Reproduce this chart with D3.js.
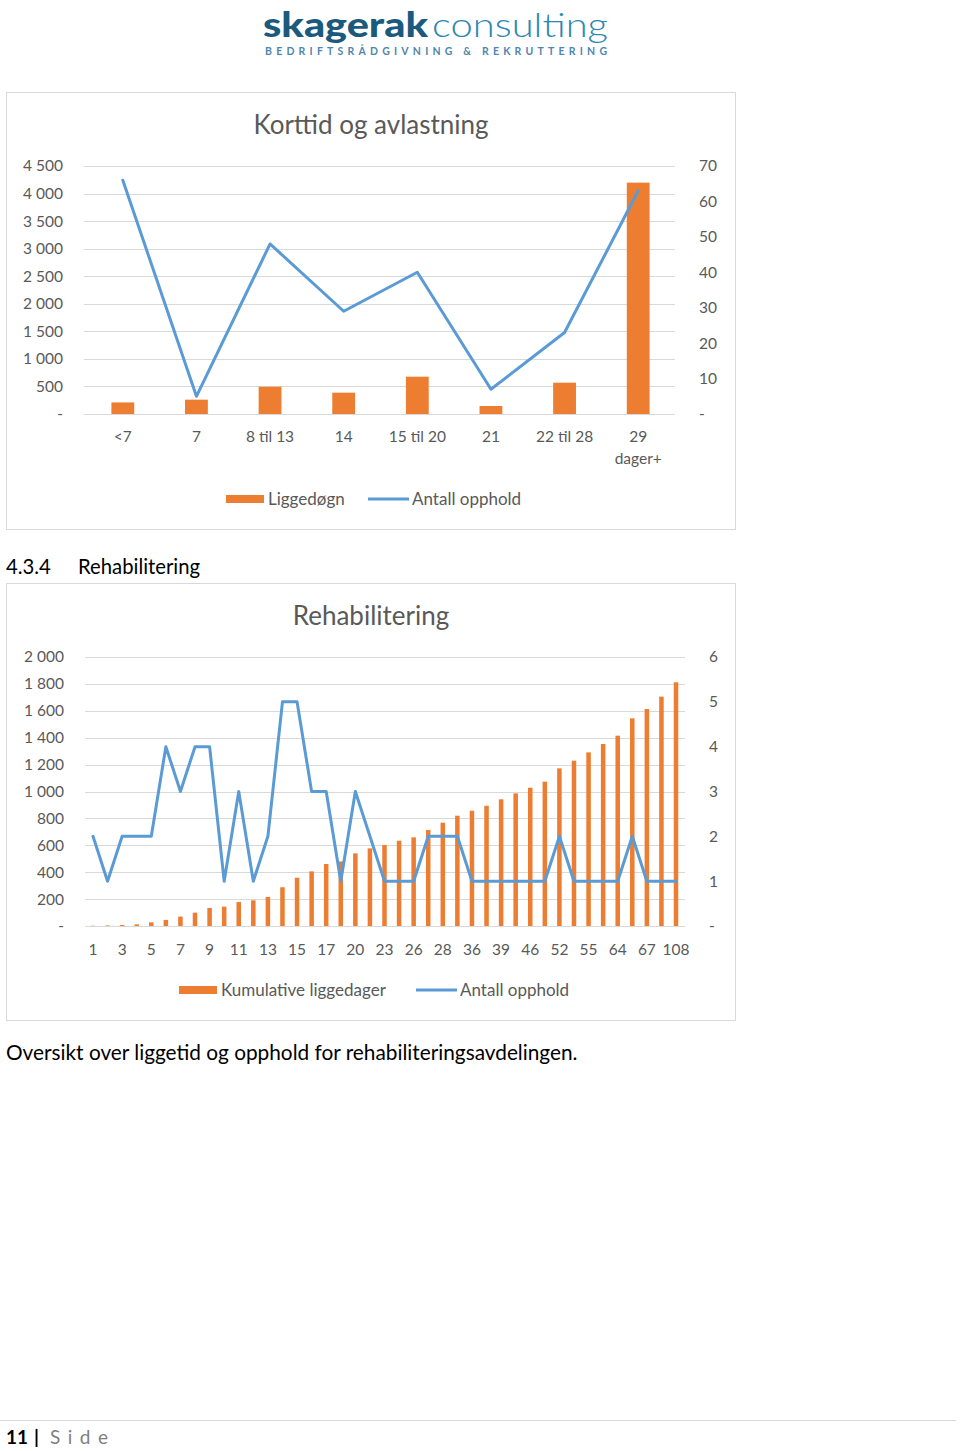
<!DOCTYPE html>
<html><head><meta charset="utf-8">
<script src="https://cdn.jsdelivr.net/npm/d3@7"></script>
<style>
body{margin:0;background:#fff}
svg{display:block}
text{font-family:Lato,"Open Sans",sans-serif}
</style>
</head><body>
<svg id="page" width="960" height="1451"></svg>
<script>
// ---------- Chart 1 data ----------
const c1Title = "Korttid og avlastning";
const c1Categories = ["<7","7","8 til 13","14","15 til 20","21","22 til 28","29 dager+"];
const c1Liggedogn = [210, 260, 495, 387, 677, 145, 568, 4198];
const c1Opphold = [66, 5, 48, 29, 40, 7, 23, 63];
const c1LeftTicks = [0,500,1000,1500,2000,2500,3000,3500,4000,4500];
const c1RightTicks = [0,10,20,30,40,50,60,70];
const c1Legend = ["Liggedøgn","Antall opphold"];

// ---------- Chart 2 data ----------
const c2Title = "Rehabilitering";
const c2Categories = ["1","2","3","4","5","6","7","8","9","10","11","12","13","14","15","16","17","18","20","21","23","24","26","27","28","30","36","37","39","42","46","49","52","53","55","60","64","65","67","90","108"];
const c2Kumulative = [2,4,8,12,27,45,70,99,134,144,178,191,216,288,359,406,461,480,540,577,602,634,659,714,768,820,857,894,942,986,1028,1073,1172,1229,1291,1353,1415,1544,1613,1705,1812];
const c2Opphold = [2,1,2,2,2,4,3,4,4,1,3,1,2,5,5,3,3,1,3,2,1,1,1,2,2,2,1,1,1,1,1,1,2,1,1,1,1,2,1,1,1];
const c2LeftTicks = [0,200,400,600,800,1000,1200,1400,1600,1800,2000];
const c2RightTicks = [0,1,2,3,4,5,6];
const c2Legend = ["Kumulative liggedager","Antall opphold"];

const ORANGE = "#ed7d31", BLUE = "#5b9bd5", GREY = "#595959", GRID = "#d9d9d9";
const svg = d3.select("#page");
svg.append("rect").attr("width",960).attr("height",1451).attr("fill","#fff");

// ---------- Logo ----------
const logo = svg.append("g");
logo.append("text").attr("x",263).attr("y",37).attr("font-size",34).attr("font-weight",900)
  .attr("fill","#1c5a7d").attr("textLength",165).attr("lengthAdjust","spacingAndGlyphs").text("skagerak");
logo.append("text").attr("x",432).attr("y",37).attr("font-size",34).attr("font-weight",300)
  .attr("fill","#2c87b2").attr("textLength",176).attr("lengthAdjust","spacingAndGlyphs").text("consulting");
logo.append("text").attr("x",265).attr("y",55).attr("font-size",10.5).attr("font-weight",700)
  .attr("fill","#4f86ad").attr("textLength",342).attr("lengthAdjust","spacing").text("BEDRIFTSRÅDGIVNING & REKRUTTERING");

const fmtLeft = v => v === 0 ? "-" : d3.format(",")(v).replace(/,/g, " ");
const fmtRight = v => v === 0 ? "-" : String(v);

function combo(cfg){
  const g = svg.append("g");
  g.append("rect").attr("x",cfg.frame[0]+0.5).attr("y",cfg.frame[1]+0.5)
    .attr("width",cfg.frame[2]-cfg.frame[0]).attr("height",cfg.frame[3]-cfg.frame[1])
    .attr("fill","#fff").attr("stroke",GRID).attr("stroke-width",1);
  g.append("text").attr("x",cfg.titleX).attr("y",cfg.titleY).attr("text-anchor","middle")
    .attr("font-size",cfg.titleSize).attr("fill",GREY).text(cfg.title);

  const x = d3.scaleBand().domain(cfg.categories).range(cfg.xRange).paddingInner(cfg.padding).paddingOuter(cfg.padding/2);
  const yL = d3.scaleLinear().domain([0, d3.max(cfg.leftTicks)]).range(cfg.yRange);
  const yR = d3.scaleLinear().domain([0, d3.max(cfg.rightTicks)]).range(cfg.yRange);

  const grid = g.append("g").attr("transform",`translate(${cfg.gridX[0]},0)`)
    .call(d3.axisRight(yL).tickValues(cfg.leftTicks).tickSize(cfg.gridX[1]-cfg.gridX[0]).tickFormat(""));
  grid.select(".domain").remove();
  grid.selectAll("line").attr("stroke",GRID).attr("stroke-width",1).attr("shape-rendering","crispEdges");

  const la = g.append("g").attr("transform",`translate(${cfg.leftLabelX},0)`)
    .call(d3.axisLeft(yL).tickValues(cfg.leftTicks).tickSize(0).tickPadding(0).tickFormat(fmtLeft));
  la.select(".domain").remove();
  la.selectAll("text").attr("font-family","Lato").attr("font-size",cfg.tickSize).attr("fill",GREY);

  const ra = g.append("g").attr("transform",`translate(${cfg.rightLabelX},0)`)
    .call(d3.axisRight(yR).tickValues(cfg.rightTicks).tickSize(0).tickPadding(0).tickFormat(fmtRight));
  ra.select(".domain").remove();
  ra.selectAll("text").attr("font-family","Lato").attr("font-size",cfg.tickSize).attr("fill",GREY);

  g.append("g").selectAll("rect").data(cfg.bars).join("rect")
    .attr("x",(d,i)=>x(cfg.categories[i])).attr("width",x.bandwidth())
    .attr("y",d=>yL(d)).attr("height",d=>yL(0)-yL(d)).attr("fill",ORANGE);

  const line = d3.line().x((d,i)=>x(cfg.categories[i])+x.bandwidth()/2).y(d=>yR(d));
  g.append("path").datum(cfg.line).attr("d",line).attr("fill","none")
    .attr("stroke",BLUE).attr("stroke-width",3).attr("stroke-linejoin","round").attr("stroke-linecap","round");

  const xa = g.append("g").attr("transform",`translate(0,${cfg.xLabelY})`)
    .call(d3.axisBottom(x).tickSize(0).tickPadding(0).tickFormat((d,i)=> (i % cfg.labelEvery === 0) ? d : ""));
  xa.select(".domain").remove();
  xa.selectAll("text").attr("font-family","Lato").attr("font-size",cfg.tickSize).attr("fill",GREY)
    .attr("dy","0").each(function(d){
      const t = d3.select(this);
      if (cfg.wrap && d.indexOf(" dager+")>=0){
        t.text(null);
        t.append("tspan").attr("x",0).attr("dy","0").text(d.split(" ")[0]);
        t.append("tspan").attr("x",0).attr("dy",22).text(d.split(" ")[1]);
      }
    });

  const lg = g.append("g");
  lg.append("rect").attr("x",cfg.legend[0]).attr("y",cfg.legendY-4).attr("width",38).attr("height",8).attr("fill",ORANGE);
  lg.append("text").attr("x",cfg.legend[0]+42).attr("y",cfg.legendY).attr("dy","0.35em")
    .attr("font-size",cfg.legendSize).attr("fill",GREY).text(cfg.legendNames[0]);
  lg.append("line").attr("x1",cfg.legend[1]).attr("x2",cfg.legend[1]+41).attr("y1",cfg.legendY).attr("y2",cfg.legendY)
    .attr("stroke",BLUE).attr("stroke-width",3);
  lg.append("text").attr("x",cfg.legend[1]+44).attr("y",cfg.legendY).attr("dy","0.35em")
    .attr("font-size",cfg.legendSize).attr("fill",GREY).text(cfg.legendNames[1]);
}

combo({
  frame:[6,92,735,529], title:c1Title, titleX:371, titleY:134, titleSize:26,
  categories:c1Categories, bars:c1Liggedogn, line:c1Opphold,
  leftTicks:c1LeftTicks, rightTicks:c1RightTicks,
  xRange:[86,675], padding:0.69, yRange:[414,166], gridX:[84,675],
  leftLabelX:63, rightLabelX:699, tickSize:15.5, xLabelY:442, labelEvery:1, wrap:true,
  legend:[226,368], legendY:499, legendSize:17, legendNames:c1Legend
});

combo({
  frame:[6,583,735,1020], title:c2Title, titleX:371, titleY:625, titleSize:26,
  categories:c2Categories, bars:c2Kumulative, line:c2Opphold,
  leftTicks:c2LeftTicks, rightTicks:c2RightTicks,
  xRange:[85.7,683.3], padding:0.69, yRange:[926,657], gridX:[85,685],
  leftLabelX:64, rightLabelX:709, tickSize:15.5, xLabelY:955, labelEvery:2, wrap:false,
  legend:[179,416], legendY:990, legendSize:17, legendNames:c2Legend
});

// ---------- Texts ----------
svg.append("text").attr("x",6).attr("y",574).attr("font-size",20.3).attr("fill","#000").text("4.3.4");
svg.append("text").attr("x",78).attr("y",574).attr("font-size",20.3).attr("fill","#000").text("Rehabilitering");
svg.append("text").attr("x",6).attr("y",1060).attr("font-size",20.8).attr("fill","#000")
  .text("Oversikt over liggetid og opphold for rehabiliteringsavdelingen.");

// footer
svg.append("line").attr("x1",0).attr("x2",956).attr("y1",1420.5).attr("y2",1420.5).attr("stroke",GRID).attr("stroke-width",1);
svg.append("text").attr("x",6).attr("y",1444).attr("font-size",19).attr("font-weight",700).attr("fill","#000").text("11");
svg.append("text").attr("x",34).attr("y",1444).attr("font-size",19).attr("font-weight",700).attr("fill","#000").text("|");
svg.append("text").attr("x",50).attr("y",1444).attr("font-size",19).attr("fill","#7f7f7f").attr("letter-spacing",7.5).text("Side");
</script>
</body></html>
